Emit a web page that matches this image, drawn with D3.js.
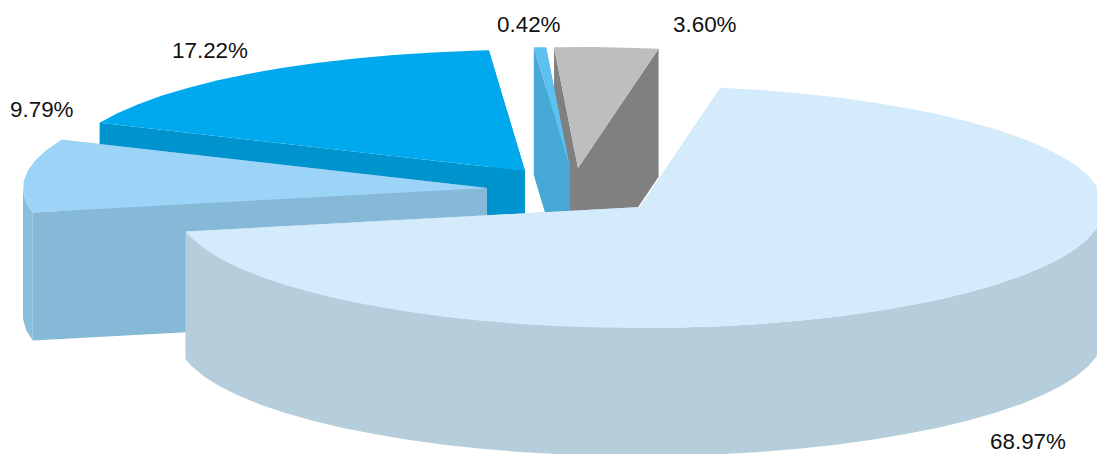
<!DOCTYPE html>
<html><head><meta charset="utf-8">
<script src="https://cdn.jsdelivr.net/npm/d3@7/dist/d3.min.js"></script>
<style>html,body{margin:0;padding:0;background:#fff;overflow:hidden}svg{display:block}</style>
</head><body><svg id="c" width="1097" height="454"></svg>
<script>
// Data, in clockwise pie order
const categories = ["a","b","c","d","e"];
const values = [68.97, 9.79, 17.22, 0.42, 3.60];
const labels = ["68.97%","9.79%","17.22%","0.42%","3.60%"];

// Layout and style
const startDeg = 10;
const radiusX = 464, radiusY = 121, depth = 128;
const apexX = [640, 487, 525, 570, 578];
const apexY = [207, 188, 171, 168, 168];
const labelX = [990, 10, 172, 497, 673];
const labelY = [449, 117, 58, 32, 32];
const topColor = ["#d3ebfb", "#9cd4f8", "#00a9ee", "#5cc1ef", "#bebebe"];
const sideColor = ["#b6cddc", "#86b8d7", "#0094cf", "#46a9d5", "#808080"];
const rimColor = ["#b6cddc", "#8abcdb", "#0094cf", "#46a9d5", "#808080"];
const paintOrder = [4, 3, 2, 1, 0];

const svg = d3.select("#c");
const rad = Math.PI / 180;
const arcs = d3.pie().sort(null).value(d => d)
  .startAngle(startDeg * rad).endAngle((startDeg + 360) * rad)(values);
const line = d3.line();

paintOrder.forEach(i => {
  const a = arcs[i];
  const sx = d3.scaleLinear().domain([-1, 1]).range([apexX[i] - radiusX, apexX[i] + radiusX]);
  const sy = d3.scaleLinear().domain([-1, 1]).range([apexY[i] - radiusY, apexY[i] + radiusY]);
  const pt = (t, dz = 0) => [sx(Math.sin(t)), sy(-Math.cos(t)) + dz];
  const apex = dz => [sx(0), sy(0) + dz];
  const g = svg.append("g");

  // Radial side walls
  [a.startAngle, a.endAngle].forEach(t => {
    g.append("path")
      .attr("d", line([apex(0), pt(t), pt(t, depth), apex(depth)]) + "Z")
      .attr("fill", sideColor[i]);
  });

  // Outer curved wall, front half only
  const lo = Math.max(a.startAngle, 90 * rad), hi = Math.min(a.endAngle, 270 * rad);
  if (hi > lo) {
    const ts = d3.range(lo, hi, 5 * rad).concat([hi]);
    const pts = ts.map(t => pt(t)).concat(ts.slice().reverse().map(t => pt(t, depth)));
    g.append("path").attr("d", line(pts) + "Z").attr("fill", rimColor[i]);
  }

  // Top face
  const ts = d3.range(a.startAngle, a.endAngle, 5 * rad).concat([a.endAngle]);
  g.append("path")
    .attr("d", line([apex(0)].concat(ts.map(t => pt(t)))) + "Z")
    .attr("fill", topColor[i]);
});

svg.selectAll("text.lbl").data(labels).join("text")
  .attr("class", "lbl")
  .attr("x", (d, i) => labelX[i])
  .attr("y", (d, i) => labelY[i])
  .attr("font-family", "'Liberation Sans', Arial, sans-serif")
  .attr("font-size", 22.4)
  .attr("fill", "#111")
  .text(d => d);
</script></body></html>
